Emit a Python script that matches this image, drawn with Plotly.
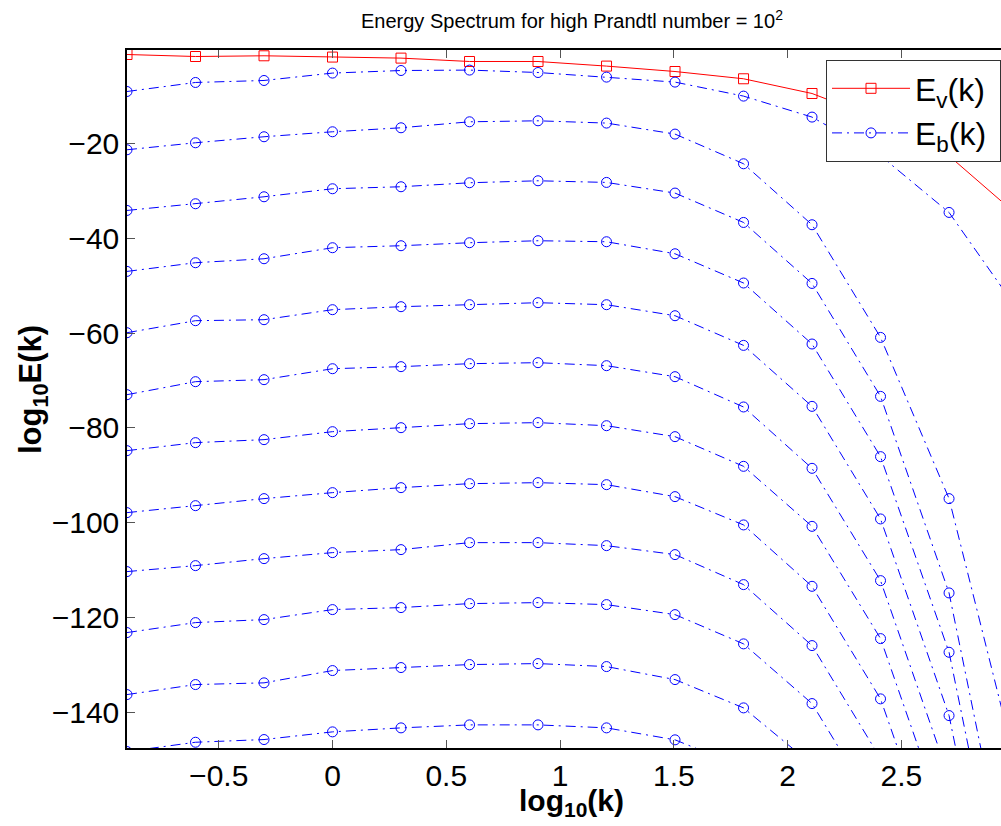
import plotly.graph_objects as go

# log10(k), k = 2^n, n = -3..10
log_k = [-0.9031, -0.6021, -0.3010, 0.0, 0.3010, 0.6021, 0.9031, 1.2041,
         1.5051, 1.8062, 2.1072, 2.4082, 2.7093, 3.0103]

# kinetic energy spectrum log10 Ev(k)
Ev = [-1.35, -1.77, -1.62, -1.89, -2.11, -2.82, -2.82, -3.79, -4.93, -6.46,
      -9.56, -15.1, -22.7, -35.2]

# magnetic energy spectra log10 Eb(k), successive outputs
eb01 = [-9.14, -7.24, -6.82, -5.26, -4.72, -4.63, -5.14, -6.11, -7.16, -10.11, -14.53, -22.67, -34.61, -55.09]
eb02 = [-21.41, -19.94, -18.67, -17.62, -16.78, -15.52, -15.31, -15.79, -18.11, -24.36, -37.20, -60.93, -94.88, -152.36]
eb03 = [-34.19, -32.78, -31.31, -29.62, -29.20, -28.36, -27.94, -28.29, -30.53, -36.72, -49.56, -73.35, -114.74, -185.2]
eb04 = [-47.03, -45.20, -44.36, -42.04, -41.62, -40.99, -40.57, -40.78, -43.31, -49.47, -62.32, -86.04, -127.24, -197.83]
eb05 = [-59.94, -57.41, -57.20, -55.09, -54.46, -54.04, -53.62, -54.04, -56.36, -62.61, -75.45, -99.16, -140.57, -210.88]
eb06 = [-72.99, -70.25, -69.83, -67.52, -67.09, -66.46, -66.25, -66.88, -69.20, -75.58, -88.50, -112.15, -153.62, -223.94]
eb07 = [-84.78, -83.09, -82.46, -80.78, -79.94, -79.09, -78.88, -79.52, -81.83, -88.08, -100.72, -124.36, -165.83, -236.15]
eb08 = [-97.83, -96.36, -94.88, -93.62, -92.57, -91.73, -91.52, -91.94, -94.46, -100.42, -113.35, -137.05, -178.46, -248.78]
eb09 = [-110.25, -108.99, -107.52, -106.25, -105.62, -104.15, -104.15, -104.78, -106.67, -112.99, -125.83, -149.62, -191.09, -261.41]
eb10 = [-123.09, -120.99, -120.36, -118.25, -117.83, -116.99, -116.78, -117.20, -119.31, -125.47, -138.04, -161.83, -203.31, -274.04]
eb11 = [-136.15, -134.04, -133.68, -131.09, -130.46, -129.83, -129.62, -130.25, -132.99, -138.95, -150.88, -174.67, -216.15, -286.67]
eb12 = [-148.15, -146.19, -145.62, -144.00, -143.16, -142.53, -142.53, -143.16, -145.68, -151.52, -163.73, -187.52, -228.99, -299.31]

eb_curves = [eb01, eb02, eb03, eb04, eb05, eb06, eb07, eb08, eb09, eb10, eb11, eb12]

x_ticks = [-0.5, 0, 0.5, 1, 1.5, 2, 2.5]
x_tick_text = ["\u22120.5", "0", "0.5", "1", "1.5", "2", "2.5"]
y_ticks = [-140, -120, -100, -80, -60, -40, -20]
y_tick_text = ["\u2212140", "\u2212120", "\u2212100", "\u221280", "\u221260", "\u221240", "\u221220"]

FONT = "Liberation Sans, Arial, Helvetica, sans-serif"
W, H = 1001, 826
ML, MR, MT, MB = 127, 0, 50, 78
PAD = "\u00a0"

fig = go.Figure()

fig.add_trace(go.Scatter(
    x=log_k, y=Ev, mode="lines+markers", name="E<sub>v</sub>(k)" + PAD,
    line=dict(color="#ff0000", width=1),
    marker=dict(symbol="square-open", size=10, color="#ff0000", line=dict(width=1)),
))

for i, eb in enumerate(eb_curves):
    fig.add_trace(go.Scatter(
        x=log_k, y=eb, mode="lines+markers", name="E<sub>b</sub>(k)" + PAD,
        legendgroup="eb", showlegend=(i == 0),
        line=dict(color="#0000ff", width=1, dash="10px,5px,2px,5px"),
        marker=dict(symbol="circle-open", size=10, color="#0000ff", line=dict(width=1)),
    ))

x_range = [-0.9031, 2.9376]
y_range = [-147.4, -0.4]

fig.update_layout(
    width=W, height=H,
    margin=dict(l=ML, r=MR, t=MT, b=MB, pad=0, autoexpand=False),
    paper_bgcolor="white", plot_bgcolor="white",
    font=dict(family=FONT, color="black"),
    showlegend=True,
    legend=dict(
        x=(826 - ML) / (W - ML), y=(H - MB - 60) / (H - MB - MT),
        xanchor="left", yanchor="top",
        bgcolor="white", bordercolor="#333333", borderwidth=1,
        font=dict(family=FONT, size=32, color="black"),
        itemwidth=78, tracegroupgap=0,
    ),
    xaxis=dict(
        range=x_range, tickmode="array", tickvals=x_ticks, ticktext=x_tick_text,
        ticks="inside", ticklen=8, tickwidth=1, tickcolor="#555555",
        showline=True, linecolor="black", linewidth=1.5, mirror="ticks",
        showgrid=False, zeroline=False, automargin=False,
        tickfont=dict(family=FONT, size=30, color="black"),
    ),
    yaxis=dict(
        range=y_range, tickmode="array", tickvals=y_ticks, ticktext=y_tick_text,
        ticks="inside", ticklen=8, tickwidth=1, tickcolor="#555555",
        showline=True, linecolor="black", linewidth=1.5, mirror=False,
        showgrid=False, zeroline=False, automargin=False,
        tickfont=dict(family=FONT, size=30, color="black"),
    ),
    annotations=[
        dict(text="Energy Spectrum for high Prandtl number = 10<sup>2</sup>",
             xref="paper", yref="paper", x=(571.5 - ML) / (W - ML), y=1,
             yshift=16, xanchor="center", yanchor="bottom", showarrow=False,
             font=dict(family=FONT, size=20, color="black")),
        dict(text="<b>log<sub>10</sub>(k)</b>",
             xref="paper", yref="paper", x=(571.5 - ML) / (W - ML), y=0,
             yshift=-34, xanchor="center", yanchor="top", showarrow=False,
             font=dict(family=FONT, size=30, color="black")),
        dict(text="<b>log<sub>10</sub>E(k)</b>",
             xref="paper", yref="paper", x=0, y=(H - MB - 390) / (H - MB - MT),
             xshift=-72, xanchor="right", yanchor="middle", textangle=-90,
             showarrow=False,
             font=dict(family=FONT, size=31, color="black")),
    ],
)

fig.write_html("out.html", config={"displayModeBar": False},
               post_script="document.body.style.margin='0';document.body.style.overflow='hidden';")
